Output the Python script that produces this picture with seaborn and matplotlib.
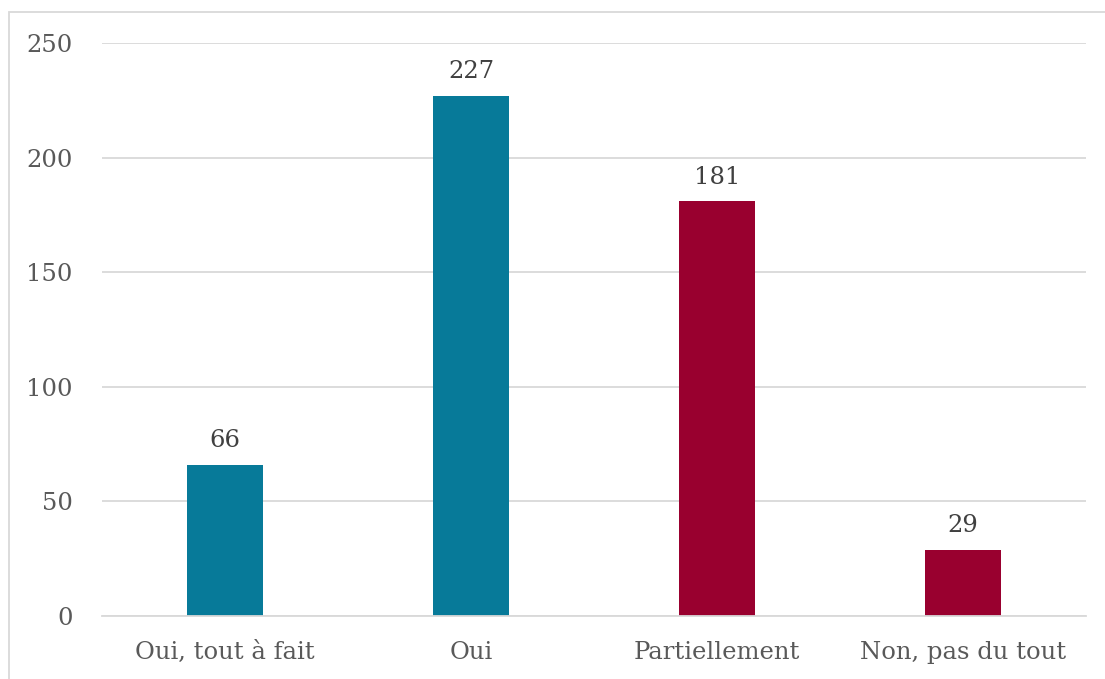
import matplotlib
matplotlib.use("Agg")
import matplotlib.pyplot as plt
import matplotlib.patches as mpatches
import seaborn as sns
import pandas as pd

# Chart data
categories = ["Oui, tout à fait", "Oui", "Partiellement", "Non, pas du tout"]
counts = [66, 227, 181, 29]
bar_colors = ["#077A99", "#077A99", "#99002F", "#99002F"]

sns.set_style("white")
plt.rcParams["font.family"] = ["DejaVu Serif"]
text_color = "#595959"

data = pd.DataFrame({"category": categories, "count": counts})

fig = plt.figure(figsize=(11.05, 6.79), dpi=100)
ax = fig.add_axes([0.0923, 0.0928, 0.8907, 0.8439])

sns.barplot(data=data, x="category", y="count", hue="category",
            palette=bar_colors, width=0.31, legend=False, ax=ax,
            saturation=1, linewidth=0)

ax.set_ylim(0, 250)
ax.set_yticks([0, 50, 100, 150, 200, 250])
ax.yaxis.grid(True, color="#D9D9D9", linewidth=1.3)
ax.set_axisbelow(True)
for s in ["top", "right", "left"]:
    ax.spines[s].set_visible(False)
ax.spines["bottom"].set_color("#D9D9D9")
ax.spines["bottom"].set_linewidth(1.3)
ax.set_xlabel("")
ax.set_ylabel("")
ax.tick_params(axis="both", length=0, labelsize=17.5, labelcolor=text_color)
ax.tick_params(axis="x", pad=18)
ax.tick_params(axis="y", pad=21)

for c in ax.containers:
    ax.bar_label(c, padding=9, fontsize=17.5, color="#404040")

# light border around the chart area
fig.patches.append(mpatches.Rectangle((0.0077, -0.05), 1.2, 0.9823 + 0.05,
                                      transform=fig.transFigure, fill=False,
                                      edgecolor="#D9D9D9", linewidth=1.3))

fig.savefig("out.png", dpi=100)
